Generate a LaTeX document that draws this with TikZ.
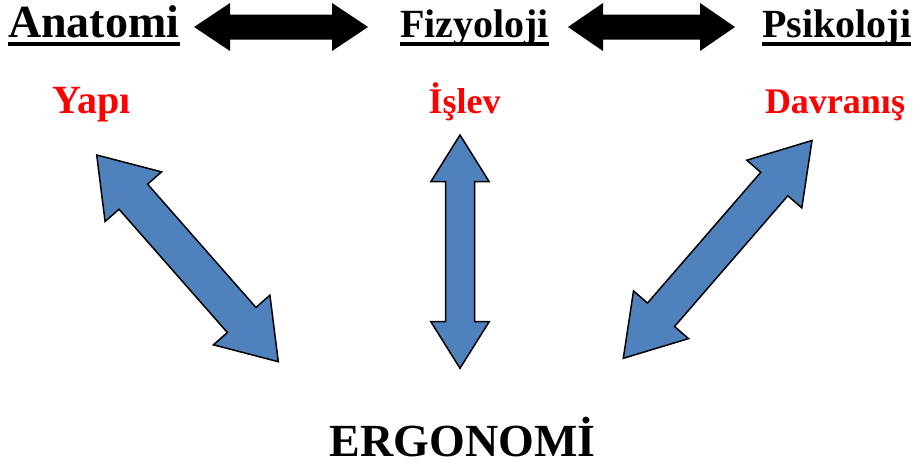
\documentclass[tikz,border=0pt]{standalone}
\usepackage{fontspec}
\setmainfont{Liberation Serif}
\usepackage{xcolor}
\usetikzlibrary{calc}

\definecolor{bondblue}{HTML}{4F81BD}
\definecolor{aspectred}{HTML}{FF0000}

% block arrow with a head at both ends:
% #1 style, #2/#3 tips, #4 head length, #5 head half width, #6 shaft half width
\newcommand{\fatarrow}[6][]{%
  \coordinate (fa-p) at ($(#2)!#4!(#3)$);
  \coordinate (fa-q) at ($(#3)!#4!(#2)$);
  \filldraw[#1] (#2) -- ($(fa-p)!#5!90:(#3)$) -- ($(fa-p)!#6!90:(#3)$)
    -- ($(fa-q)!#6!-90:(#2)$) -- ($(fa-q)!#5!-90:(#2)$) -- (#3)
    -- ($(fa-q)!#5!90:(#2)$) -- ($(fa-q)!#6!90:(#2)$)
    -- ($(fa-p)!#6!-90:(#3)$) -- ($(fa-p)!#5!-90:(#3)$) -- cycle;
}

\begin{document}
\begin{tikzpicture}[
  x=1pt,y=-1pt,
  title/.style={font=\fontsize{40}{40}\selectfont\bfseries,inner sep=0pt,anchor=base west},
  aspect/.style={font=\fontsize{36}{36}\selectfont\bfseries,text=aspectred,inner sep=0pt,anchor=base},
  underline/.style={line width=4pt},
  link/.style={fill=black,draw=none},
  bond/.style={fill=bondblue,draw=black,line width=1.5pt,line join=miter}
]
\useasboundingbox (0,0) rectangle (920,471);

% disciplines
\node[title,font=\fontsize{46}{46}\selectfont\bfseries] (anatomi) at (8,37) {Anatomi};
\node[title] (fizyoloji) at (400,37) {Fizyoloji};
\node[title] (psikoloji) at (762,37) {Psikoloji};
\foreach \n in {anatomi,fizyoloji,psikoloji}
  \draw[underline] ([yshift=-7pt]\n.base west) -- ([yshift=-7pt]\n.base east);

% what each one studies
\node[aspect,font=\fontsize{40}{40}\selectfont\bfseries] (yapi) at (91.5,113) {Yapı};
\node[aspect] (islev) at (464.5,113) {İşlev};
\node[aspect] (davranis) at (835,113) {Davranış};

\node[inner sep=0pt,anchor=base,font=\fontsize{46}{46}\selectfont\bfseries]
  (ergonomi) at (462.5,456) {ERGONOMİ};

% arrow tips
\coordinate (ana-r) at (194,27);
\coordinate (fiz-l) at (368,27);
\coordinate (fiz-r) at (568,27);
\coordinate (psi-l) at (735,27);
\coordinate (yapi-s) at (96.7,155);
\coordinate (yapi-e) at (278.3,361.7);
\coordinate (islev-s) at (460,135);
\coordinate (islev-e) at (460,368.3);
\coordinate (davr-s) at (812,140.5);
\coordinate (davr-e) at (623.3,358.3);

\fatarrow[link]{ana-r}{fiz-l}{36pt}{24pt}{12.5pt}
\fatarrow[link]{fiz-r}{psi-l}{35pt}{24pt}{12.5pt}

\fatarrow[bond]{yapi-s}{yapi-e}{55.5pt}{37.6pt}{19pt}
\fatarrow[bond]{islev-s}{islev-e}{46.7pt}{29.2pt}{14.5pt}
\fatarrow[bond]{davr-s}{davr-e}{57.6pt}{36.4pt}{17.9pt}
\end{tikzpicture}
\end{document}
